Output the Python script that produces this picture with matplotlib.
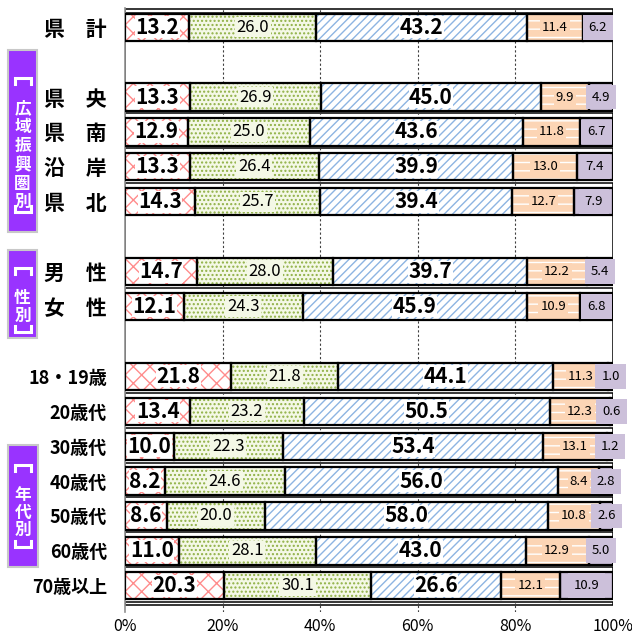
import matplotlib
matplotlib.use("Agg")
import matplotlib.pyplot as plt
from matplotlib.patches import Rectangle
from matplotlib.lines import Line2D

plt.rcParams["font.family"] = ["Noto Sans CJK JP", "DejaVu Sans"]
plt.rcParams["hatch.linewidth"] = 1.0

# ── data ─────────────────────────────────────────────────────────────────────
# "" marks an empty spacer row
row_labels = ["県　計", "", "県　央", "県　南", "沿　岸", "県　北", "",
              "男　性", "女　性", "",
              "18・19歳", "20歳代", "30歳代", "40歳代", "50歳代", "60歳代", "70歳以上"]

s1 = [13.2, 13.3, 12.9, 13.3, 14.3, 14.7, 12.1, 21.8, 13.4, 10.0, 8.2, 8.6, 11.0, 20.3]
s2 = [26.0, 26.9, 25.0, 26.4, 25.7, 28.0, 24.3, 21.8, 23.2, 22.3, 24.6, 20.0, 28.1, 30.1]
s3 = [43.2, 45.0, 43.6, 39.9, 39.4, 39.7, 45.9, 44.1, 50.5, 53.4, 56.0, 58.0, 43.0, 26.6]
s4 = [11.4, 9.9, 11.8, 13.0, 12.7, 12.2, 10.9, 11.3, 12.3, 13.1, 8.4, 10.8, 12.9, 12.1]
s5 = [6.2, 4.9, 6.7, 7.4, 7.9, 5.4, 6.8, 1.0, 0.6, 1.2, 2.8, 2.6, 5.0, 10.9]

xticks = [0, 20, 40, 60, 80, 100]
xtick_labels = ["0%", "20%", "40%", "60%", "80%", "100%"]

# tag text, box (x, y, w, h) in px, char centres, bracket lines (px from top)
groups = [
    ("広域振興圏別", (8, 50, 29, 182), [108, 127, 146, 165, 184, 202], (78, 212)),
    ("性別", (8, 250, 29, 88), [298, 316], (268, 332)),
    ("年代別", (8, 445, 30, 122), [495, 513, 530], (465, 547)),
]

# ── styles ───────────────────────────────────────────────────────────────────
W, H = 632, 635
BAR_H = 0.78
series = [s1, s2, s3, s4, s5]
styles = [
    dict(fc="white",   hc="#ff8c8c", hatch="xx"),
    dict(fc="#f4f8e6", hc="#8fb045", hatch="...."),
    dict(fc="white",   hc="#8db4e2", hatch="////"),
    dict(fc="#fcd5b5", hc="white",   hatch="--"),
    dict(fc="#ccc0da", hc="#ccc0da", hatch=None),
]
label_fmt = [
    dict(size=15, weight="bold", pad=0.02),
    dict(size=12, weight="normal", pad=0.1),
    dict(size=15, weight="bold", pad=0.02),
    dict(size=9.5, weight="normal", pad=0.15),
    dict(size=9.5, weight="normal", pad=0.45),
]

fig = plt.figure(figsize=(W / 100, H / 100), dpi=100)
ax = fig.add_axes([125 / W, (H - 612) / H, 488 / W, 604 / H])
ax.set_xlim(0, 100)
ax.set_ylim(16.75, -0.55)

rows = [i for i, lab in enumerate(row_labels) if lab]

# outline strips in the gaps between rows
ax.add_patch(Rectangle((0, -0.52), 100, 0.12, fc="white", ec="black", lw=1.1, zorder=1))
ax.add_patch(Rectangle((0, rows[-1] + 0.45), 100, 0.09, fc="white", ec="black", lw=1.1, zorder=1))
for a, b in zip(rows[:-1], rows[1:]):
    if b - a == 1:
        y0, y1 = a + 0.47, b - BAR_H / 2
    else:
        y0, y1 = a + BAR_H / 2, b - BAR_H / 2
    ax.add_patch(Rectangle((0, y0), 100, y1 - y0, fc="white", ec="black", lw=1.1, zorder=1))

for gx in xticks[1:-1]:
    ax.axvline(gx, color="#404040", lw=0.8, ls=(0, (2, 2)), zorder=1.5)

left = [0.0] * len(rows)
for k, (vals, st, lf) in enumerate(zip(series, styles, label_fmt)):
    ax.barh(rows, vals, left=left, height=BAR_H, color=st["fc"], edgecolor=st["hc"],
            hatch=st["hatch"], lw=0, zorder=2)
    ax.barh(rows, vals, left=left, height=BAR_H, fill=False, edgecolor="black",
            lw=1.6, zorder=3)
    for y, l, v in zip(rows, left, vals):
        ax.text(l + v / 2, y, f"{v:.1f}", ha="center", va="center",
                fontsize=lf["size"], fontweight=lf["weight"], zorder=4,
                bbox=dict(boxstyle=f"square,pad={lf['pad']}", fc=st["fc"], ec="none"))
    left = [l + v for l, v in zip(left, vals)]

ax.set_yticks(rows)
ax.set_yticklabels([row_labels[i] for i in rows])
for t, i in zip(ax.get_yticklabels(), rows):
    t.set_fontweight("bold")
    t.set_fontsize(15 if i < 10 else 13)
ax.set_xticks(xticks)
ax.set_xticklabels(xtick_labels, fontsize=11.5)
ax.tick_params(length=0)
ax.tick_params(axis="x", pad=4)
ax.tick_params(axis="y", pad=13)
for side in ["top", "right", "bottom"]:
    ax.spines[side].set_visible(False)
ax.spines["left"].set_color("#909090")
ax.spines["left"].set_linewidth(1.2)

# purple group tags with vertical text
for text, (bx, by, bw, bh), ys, (bt, bb) in groups:
    fig.patches.append(Rectangle((bx / W, 1 - (by + bh) / H), bw / W, bh / H,
                                 transform=fig.transFigure, fc="#9933ff",
                                 ec="#c8c8c8", lw=1.5))
    cx = bx + bw / 2
    for ch, yy in zip(text, ys):
        fig.text(cx / W, 1 - yy / H, ch, ha="center", va="center",
                 color="white", fontsize=12, fontweight="bold")
    # vertical brackets drawn as short line shapes
    for yy, d in [(bt, 6), (bb, -6)]:
        xs = [cx - 8, cx - 8, cx + 8, cx + 8]
        ysb = [yy + d, yy, yy, yy + d]
        fig.lines.append(Line2D([x / W for x in xs], [1 - v / H for v in ysb],
                                transform=fig.transFigure, color="white", lw=2.2,
                                solid_joinstyle="miter"))

fig.savefig("out.png", dpi=100)
